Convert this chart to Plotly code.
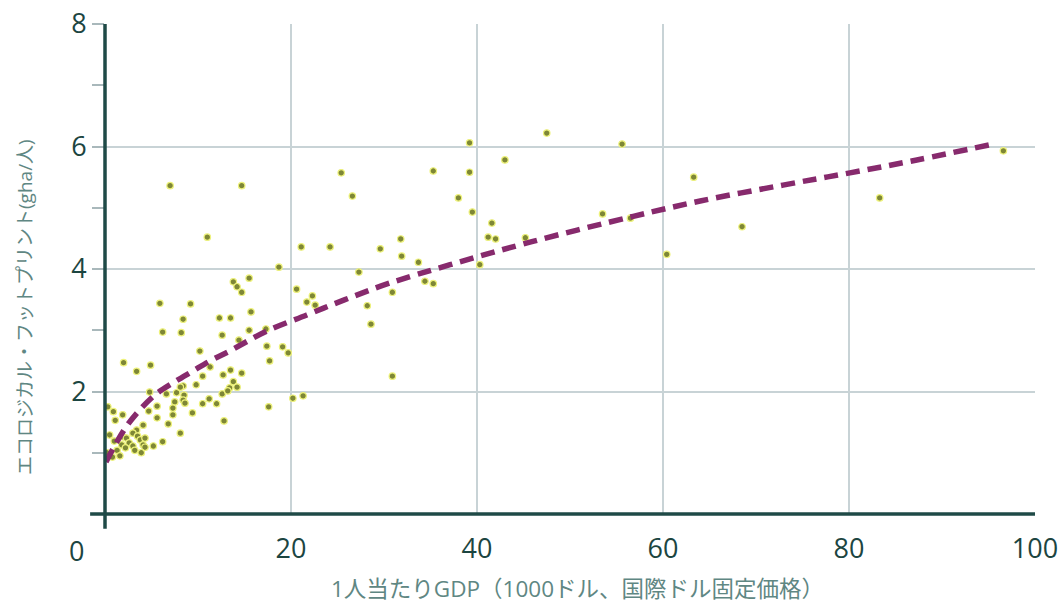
import plotly.graph_objects as go

# Countries: GDP per capita (thousand intl. $) vs ecological footprint (gha per person)
gdp = [
    7.0, 14.7, 11.0, 25.4, 26.6, 21.1, 24.2, 18.7, 13.8, 14.2,
    14.7, 15.5, 5.9, 9.2, 8.4, 6.2, 8.2, 12.3, 13.5, 15.7,
    12.6, 15.5, 20.6, 22.3, 21.7, 22.6, 10.2, 14.4, 17.3, 17.4,
    17.7, 19.1, 19.7, 2.0, 3.4, 4.9, 11.3, 13.5, 14.7, 10.5,
    12.7, 13.8, 13.4, 14.2, 9.8, 8.4, 12.6, 13.2, 8.5, 11.2,
    10.5, 12.0, 20.2, 21.3, 17.6, 30.9, 47.5, 39.2, 43.0, 35.3,
    39.2, 38.0, 39.5, 41.6, 41.2, 42.0, 45.2, 31.8, 29.6, 31.9,
    33.7, 27.3, 40.3, 34.4, 35.3, 30.9, 28.2, 28.6, 55.6, 53.5,
    56.5, 63.3, 60.4, 68.5, 83.3, 96.6, 0.3, 0.9, 1.1, 1.9,
    4.8, 6.6, 7.7, 8.1, 8.4, 7.5, 8.6, 4.7, 5.6, 7.3,
    7.3, 9.4, 5.6, 4.1, 3.4, 3.0, 6.8, 8.1, 0.5, 1.9,
    2.3, 3.5, 3.8, 4.3, 1.0, 2.6, 1.8, 3.0, 4.1, 5.2,
    6.2, 1.3, 2.2, 3.2, 4.3, 1.6, 3.9, 0.8, 0.2, 12.8,
]
footprint = [
    5.36, 5.36, 4.52, 5.57, 5.19, 4.36, 4.36, 4.03, 3.79, 3.71,
    3.62, 3.85, 3.44, 3.43, 3.18, 2.97, 2.96, 3.20, 3.20, 3.30,
    2.92, 3.00, 3.67, 3.56, 3.46, 3.41, 2.66, 2.84, 3.02, 2.74,
    2.50, 2.73, 2.63, 2.47, 2.33, 2.43, 2.40, 2.35, 2.30, 2.25,
    2.27, 2.16, 2.06, 2.07, 2.11, 2.09, 1.96, 2.01, 1.94, 1.88,
    1.80, 1.80, 1.89, 1.93, 1.75, 2.25, 6.22, 6.06, 5.78, 5.60,
    5.58, 5.16, 4.93, 4.75, 4.52, 4.49, 4.51, 4.49, 4.33, 4.21,
    4.11, 3.95, 4.07, 3.80, 3.76, 3.62, 3.40, 3.10, 6.04, 4.90,
    4.83, 5.50, 4.24, 4.69, 5.16, 5.93, 1.75, 1.67, 1.53, 1.62,
    1.99, 1.96, 1.98, 2.07, 1.86, 1.83, 1.81, 1.68, 1.76, 1.73,
    1.62, 1.65, 1.57, 1.45, 1.37, 1.32, 1.47, 1.32, 1.29, 1.26,
    1.24, 1.27, 1.21, 1.24, 1.19, 1.16, 1.13, 1.11, 1.13, 1.11,
    1.18, 1.04, 1.08, 1.04, 1.09, 0.95, 1.00, 0.93, 1.00, 1.52,
]

# Fitted trend curve
trend_x = [0.1, 1.1, 2.4, 3.8, 5.5, 7.3, 9.4, 11.3, 13.4, 17.3, 21.7,
           25.8, 30.6, 37.1, 46.0, 56.8, 64.0, 72.9, 80.1, 87.3, 95.5]
trend_y = [0.85, 1.13, 1.45, 1.71, 1.96, 2.14, 2.33, 2.50, 2.66, 2.98, 3.25,
           3.50, 3.77, 4.07, 4.45, 4.86, 5.11, 5.37, 5.57, 5.78, 6.04]

x_ticks = [20, 40, 60, 80, 100]
y_ticks = [2, 4, 6, 8]
y_minor = [1, 3, 5, 7]

x_title = "1人当たりGDP（1000ドル、国際ドル固定価格）"
y_title = "エコロジカル・フットプリント(gha/人)"

AXIS = "#1f4a47"
GRID = "#c8d3d6"
LABEL = "#1c4541"
TITLE = "#5f8783"
FONT = "Open Sans, Noto Sans CJK JP, sans-serif"

fig = go.Figure()

fig.add_trace(go.Scatter(
    x=gdp, y=footprint, mode="markers",
    marker=dict(size=6.5, color="#7e8736",
                line=dict(color="#eef27c", width=1.2)),
    showlegend=False, hoverinfo="skip",
))

fig.add_trace(go.Scatter(
    x=trend_x, y=trend_y, mode="lines",
    line=dict(color="#872a6d", width=5.5, dash="14px,8px", shape="spline"),
    showlegend=False, hoverinfo="skip",
))

fig.update_layout(
    width=1062, height=606,
    margin=dict(l=105, r=27, t=24, b=92, autoexpand=False),
    paper_bgcolor="white", plot_bgcolor="white",
    font=dict(family=FONT, color=LABEL),
    xaxis=dict(
        range=[0, 100], tickvals=x_ticks,
        ticktext=[str(v) for v in x_ticks],
        showgrid=True, gridcolor=GRID, gridwidth=1.5,
        zeroline=False, showline=False, ticks="",
        ticklabelstandoff=16, automargin=False,
        tickfont=dict(size=27, color=LABEL, family=FONT),
    ),
    yaxis=dict(
        range=[0, 8], tickvals=y_ticks,
        ticktext=[str(v) for v in y_ticks],
        showgrid=True, gridcolor=GRID, gridwidth=1.5,
        zeroline=False, showline=False, automargin=False,
        ticks="outside", ticklen=12, tickcolor="#a9b8bb", tickwidth=1.5,
        minor=dict(tickvals=y_minor, ticks="outside", ticklen=12,
                   tickcolor="#a9b8bb", tickwidth=1.5, showgrid=False),
        tickfont=dict(size=27, color=LABEL, family=FONT),
    ),
)

# Heavy axis lines, extending a little past the origin
fig.add_shape(type="line", xref="paper", yref="paper",
              x0=0, x1=0, y0=-0.03, y1=1.0,
              line=dict(color=AXIS, width=3.5), layer="above")
fig.add_shape(type="line", xref="paper", yref="paper",
              x0=-0.016, x1=1.0, y0=0, y1=0,
              line=dict(color=AXIS, width=3.5), layer="above")

# Shared origin label
fig.add_annotation(text="0", xref="paper", yref="paper",
                   x=-0.031, y=-0.075, showarrow=False,
                   xanchor="center", yanchor="middle",
                   font=dict(size=27, color=LABEL, family=FONT))

# Axis titles
fig.add_annotation(text=x_title, xref="paper", yref="paper",
                   x=0.5086, y=-0.152, showarrow=False,
                   xanchor="center", yanchor="middle",
                   font=dict(size=22.5, color=TITLE, family=FONT))
fig.add_annotation(text=y_title, xref="paper", yref="paper",
                   x=-0.086, y=0.4225, showarrow=False, textangle=-90,
                   xanchor="center", yanchor="middle",
                   font=dict(size=19, color=TITLE, family=FONT))

fig.write_html("out.html")
